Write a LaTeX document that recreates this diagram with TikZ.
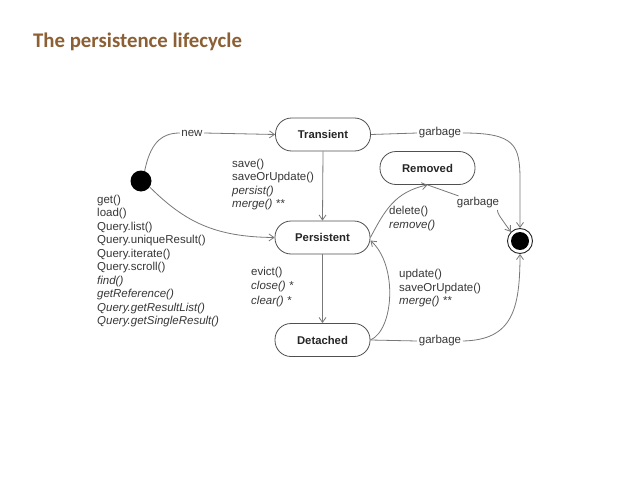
\documentclass[tikz,border=0pt]{standalone}
\usepackage{fontspec}
\setmainfont{Liberation Sans}
\newfontfamily\titlefont{Carlito}
\usetikzlibrary{arrows.meta}
\definecolor{titlebrown}{RGB}{140,96,52}
\definecolor{linegray}{RGB}{120,120,120}
\definecolor{boxgray}{RGB}{80,80,80}
\definecolor{txtgray}{RGB}{55,55,55}
\begin{document}
\begin{tikzpicture}[x=1pt,y=-1pt,
  statebox/.style={draw=boxgray, line width=0.8pt, rounded corners=16pt,
    minimum width=95pt, minimum height=33pt, inner sep=0pt,
    font=\fontsize{11.3}{13}\selectfont\bfseries, text=black!85},
  conn/.style={draw=linegray, line width=0.8pt},
  arr/.style={conn, -{Straight Barb[length=5pt,width=7pt]}},
  lbl/.style={inner sep=1.5pt, font=\fontsize{11.5}{13.5}\selectfont, text=txtgray},
  block/.style={anchor=north west, inner sep=0pt, align=left, text=txtgray}
]
\useasboundingbox[fill=white] (0,0) rectangle (638,479);

\node[anchor=base west, inner sep=0pt, text=titlebrown,
  font=\titlefont\fontsize{20.8}{24}\selectfont\bfseries] (title) at (33,47.5) {The persistence lifecycle};

% states
\node[statebox] (trans) at (323,134.5) {Transient};
\node[statebox] (pers) at (322.5,237.5) {Persistent};
\node[statebox] (det) at (322.5,340) {Detached};
\node[statebox] (rem) at (427.5,168) {Removed};

\node[circle, fill=black, inner sep=0pt, minimum size=21pt] (init) at (141,181) {};
\node[circle, draw=black!85, line width=0.9pt, inner sep=0pt, minimum size=25pt] (fin) at (520,241) {};
\node[circle, fill=black, inner sep=0pt, minimum size=18pt] (finin) at (fin) {};

% edge labels
\node[lbl] (newl) at (192,133) {new};
\node[lbl] (g1) at (440,133) {garbage};
\node[lbl] (g2) at (478,203) {garbage};
\node[lbl] (g3) at (440,341) {garbage};

% text blocks
\node[block, font=\fontsize{11.5}{13.3}\selectfont] (saveb) at (232,159)
  {save()\\saveOrUpdate()\\\itshape persist()\\\itshape merge() **};
\node[block, font=\fontsize{11.5}{13.55}\selectfont] (getb) at (97,194.5)
  {get()\\load()\\Query.list()\\Query.uniqueResult()\\Query.iterate()\\Query.scroll()\\\itshape find()\\\itshape getReference()\\\itshape Query.getResultList()\\\itshape Query.getSingleResult()};
\node[block, font=\fontsize{11.5}{14.3}\selectfont] (evictb) at (251,267)
  {evict()\\\itshape close() *\\\itshape clear() *};
\node[block, font=\fontsize{11.5}{13.5}\selectfont] (updb) at (399,269)
  {update()\\saveOrUpdate()\\\itshape merge() **};
\node[block, font=\fontsize{11.5}{14}\selectfont] (delb) at (389,206)
  {delete()\\\itshape remove()};

% connectors
\draw[conn] (init.70) .. controls (150,145) and (160,133) .. (newl.west);
\draw[arr] (newl.east) -- (trans.west);
\draw[arr] (init.-35) .. controls (185,222) and (215,237) .. (pers.west);
\draw[arr] (trans.south) -- (pers.north);
\draw[arr] (pers.south) -- (det.north);
\draw[conn] (trans.east) -- (g1.west);
\draw[arr] (g1.east) .. controls (515,133) and (520,145) .. (520,180) -- (fin.north);
\draw[arr] (pers.east) .. controls (385,210) and (395,192) .. (rem.south);
\draw[conn] (rem.south) -- (g2.160);
\draw[arr] (g2.-20) .. controls (498,214) .. (fin.135);
\draw[arr] (det.east) .. controls (394,330) and (398,265) .. ([yshift=-3pt]pers.east);
\draw[conn] (det.east) -- (g3.west);
\draw[arr] (g3.east) .. controls (512,340) and (520,310) .. (fin.south);
\end{tikzpicture}
\end{document}
